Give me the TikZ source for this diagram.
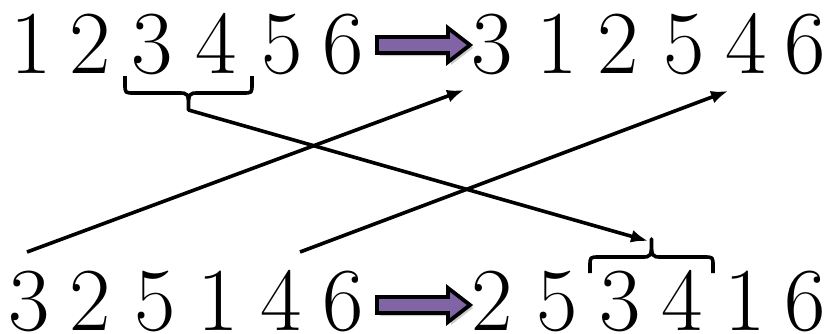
\documentclass[tikz,border=0pt]{standalone}
\usetikzlibrary{arrows.meta}
\definecolor{arrowpurple}{RGB}{128,100,165}
\begin{document}
\begin{tikzpicture}[x=1pt,y=-1pt,
  digit/.style={anchor=base,inner sep=0pt,text depth=0pt,font=\fontsize{90}{90}\selectfont},
  link/.style={line width=3.6pt,-{Latex[length=17pt,width=13pt]}},
  bracestyle/.style={line width=3.6pt,line cap=butt,line join=round},
  fat/.style={line width=3.8pt,fill=arrowpurple,draw=black,line join=miter},
  fatshadow/.style={fill=black!40,opacity=0.5},
]
\useasboundingbox (0,0) rectangle (835,333);
% top left row
\node[digit] (t1) at (31,73) {1};
\node[digit] (t2) at (90,73) {2};
\node[digit] (t3) at (152,73) {3};
\node[digit] (t4) at (216,73) {4};
\node[digit] (t5) at (282,73) {5};
\node[digit] (t6) at (343,73) {6};
% top right row
\node[digit] (u1) at (492,73) {3};
\node[digit] (u2) at (557,73) {1};
\node[digit] (u3) at (618,73) {2};
\node[digit] (u4) at (684,73) {5};
\node[digit] (u5) at (746,73) {4};
\node[digit] (u6) at (805,73) {6};
% bottom left row
\node[digit] (b1) at (29,330) {3};
\node[digit] (b2) at (90,330) {2};
\node[digit] (b3) at (155,330) {5};
\node[digit] (b4) at (218,330) {1};
\node[digit] (b5) at (281,330) {4};
\node[digit] (b6) at (343,330) {6};
% bottom right row
\node[digit] (c1) at (492,330) {2};
\node[digit] (c2) at (557,330) {5};
\node[digit] (c3) at (620,330) {3};
\node[digit] (c4) at (682,330) {4};
\node[digit] (c5) at (745,330) {1};
\node[digit] (c6) at (805,330) {6};
% purple arrows
\begin{scope}[shift={(3,3)}]
\fill[fatshadow] (377,37) -- (448,37) -- (448,28) -- (470,45) -- (448,62) -- (448,53) -- (377,53) -- cycle;
\fill[fatshadow] (377,297) -- (448,297) -- (448,288) -- (470,305) -- (448,322) -- (448,313) -- (377,313) -- cycle;
\end{scope}
\draw[fat] (377,37) -- (448,37) -- (448,28) -- (470,45) -- (448,62) -- (448,53) -- (377,53) -- cycle;
\draw[fat] (377,297) -- (448,297) -- (448,288) -- (470,305) -- (448,322) -- (448,313) -- (377,313) -- cycle;
% braces
\coordinate (tip1) at (188.5,110);
\coordinate (tip2) at (651.5,239);
\draw[bracestyle] (125,76) -- (125,84) .. controls (125,93) .. (134,93) -- (178,93)
  .. controls (188.5,93) .. (tip1) .. controls (188.5,93) .. (199,93) -- (243,93)
  .. controls (252,93) .. (252,84) -- (252,76);
\draw[bracestyle] (590,273) -- (590,266) .. controls (590,257) .. (599,257) -- (641,257)
  .. controls (651.5,257) .. (tip2) .. controls (651.5,257) .. (662,257) -- (704,257)
  .. controls (713,257) .. (713,266) -- (713,273);
% crossing arrows
\coordinate (s1) at (27,252);
\coordinate (e1) at (464,90);
\coordinate (s2) at (300,252);
\coordinate (e2) at (728,91);
\coordinate (e3) at (648,241);
\draw[link] (s1) -- (e1);
\draw[link] (s2) -- (e2);
\draw[link] (tip1) -- (e3);
\end{tikzpicture}
\end{document}
